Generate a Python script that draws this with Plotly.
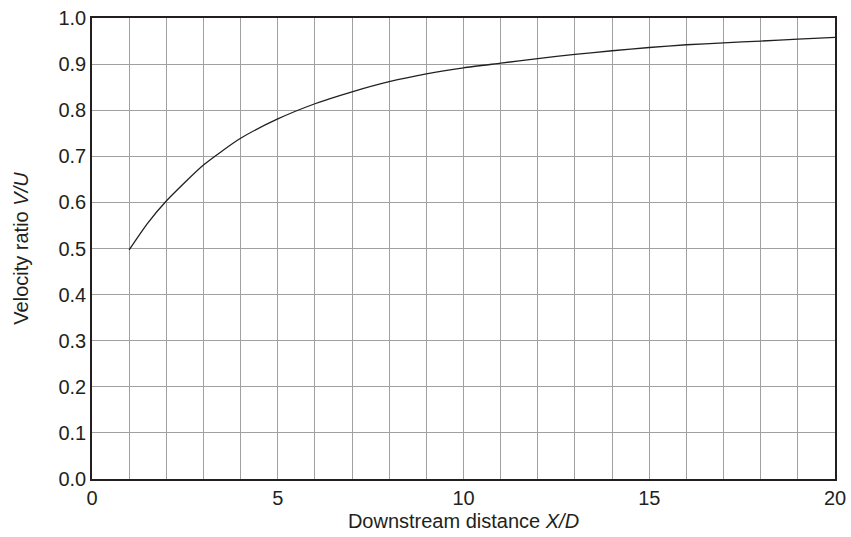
import plotly.graph_objects as go

x_vals = [1, 1.5, 2, 3, 4, 5, 6, 7, 8, 9, 10, 11, 12, 13, 14, 15, 16, 17, 18, 19, 20]
v_ratio = [0.497, 0.555, 0.603, 0.681, 0.739, 0.781, 0.814, 0.840, 0.862, 0.879, 0.892, 0.902, 0.912, 0.921, 0.929, 0.936, 0.942, 0.946, 0.950, 0.954, 0.958]

x_title = "Downstream distance <i>X/D</i>"
y_title = "Velocity ratio <i>V/U</i>"

fig = go.Figure()
fig.add_trace(go.Scatter(x=x_vals, y=v_ratio, mode="lines",
                         line=dict(color="#231f20", width=1.3, shape="spline", smoothing=0.6),
                         showlegend=False, hoverinfo="skip"))

grid = "#a0a0a0"
fig.update_layout(
    width=851, height=537,
    margin=dict(l=92, r=16, t=18, b=58, autoexpand=False),
    plot_bgcolor="white", paper_bgcolor="white",
    font=dict(family="Liberation Sans, Arial, sans-serif", size=20, color="#231f20"),
    xaxis=dict(range=[0, 20], dtick=5, tick0=0, showgrid=True, gridcolor=grid, gridwidth=1,
               minor=dict(dtick=1, showgrid=True, gridcolor=grid, gridwidth=1),
               showline=True, linecolor="#231f20", linewidth=1.5, mirror=True,
               ticks="", zeroline=False, automargin=False, ticklabeloverflow="allow",
               title=dict(text=x_title, standoff=6, font=dict(size=20))),
    yaxis=dict(range=[0, 1.0], dtick=0.1, tickformat=".1f", showgrid=True, gridcolor=grid, gridwidth=1,
               showline=True, linecolor="#231f20", linewidth=1.5, mirror=True,
               ticks="", zeroline=False, automargin=False, ticklabeloverflow="allow",
               title=dict(text=y_title, standoff=24, font=dict(size=20))),
)
fig.write_html("out.html", config={"displayModeBar": False},
               post_script="document.body.style.margin='0';document.body.style.overflow='hidden';")
